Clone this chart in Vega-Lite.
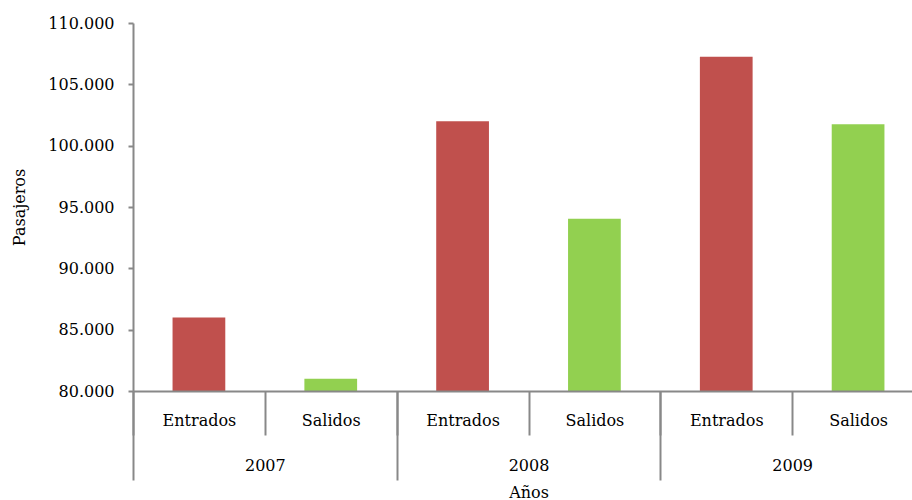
{
  "$schema": "https://vega.github.io/schema/vega-lite/v6.json",
  "width": 791,
  "height": 368,
  "autosize": {"type": "none"},
  "padding": {"left": 133, "top": 23, "right": 0, "bottom": 109},
  "background": "white",
  "config": {"view": {"stroke": null}, "font": "DejaVu Serif"},
  "data": {
    "values": [
      {"year": "2007", "tipo": "Entrados", "grupo": "2007 Entrados", "pasajeros": 86000},
      {"year": "2007", "tipo": "Salidos", "grupo": "2007 Salidos", "pasajeros": 81000},
      {"year": "2008", "tipo": "Entrados", "grupo": "2008 Entrados", "pasajeros": 102000},
      {"year": "2008", "tipo": "Salidos", "grupo": "2008 Salidos", "pasajeros": 94050},
      {"year": "2009", "tipo": "Entrados", "grupo": "2009 Entrados", "pasajeros": 107250},
      {"year": "2009", "tipo": "Salidos", "grupo": "2009 Salidos", "pasajeros": 101750}
    ]
  },
  "layer": [
    {
      "mark": {"type": "bar", "clip": true, "width": {"band": 0.4}},
      "encoding": {
        "x": {
          "field": "grupo", "type": "nominal", "sort": null,
          "scale": {"paddingInner": 0, "paddingOuter": 0},
          "axis": {
            "orient": "bottom", "title": null, "tickBand": "extent", "tickSize": 44,
            "tickColor": "#888888", "tickWidth": 2, "domainColor": "#888888", "domainWidth": 2,
            "labelAngle": 0, "labelPadding": -23, "labelFontSize": 16, "labelColor": "#000000",
            "labelExpr": "split(datum.label, ' ')[1]", "zindex": 1
          }
        },
        "y": {
          "field": "pasajeros", "type": "quantitative",
          "scale": {"domain": [80000, 110000], "zero": false, "nice": false},
          "axis": {
            "title": "Pasajeros", "titleFontWeight": "normal", "titleFontSize": 16, "titleColor": "#000000",
            "titlePadding": 20, "grid": false,
            "values": [80000, 85000, 90000, 95000, 100000, 105000, 110000],
            "labelExpr": "replace(format(datum.value, ','), ',', '.')",
            "labelFontSize": 16, "labelColor": "#000000", "labelPadding": 14,
            "tickSize": 5, "tickColor": "#888888", "tickWidth": 2,
            "domainColor": "#888888", "domainWidth": 2, "zindex": 1
          }
        },
        "color": {
          "field": "tipo", "type": "nominal",
          "scale": {"domain": ["Entrados", "Salidos"], "range": ["#C0504D", "#92D050"]},
          "legend": null
        }
      }
    },
    {
      "mark": {"type": "bar", "opacity": 0, "clip": true},
      "encoding": {
        "x": {
          "field": "year", "type": "ordinal",
          "scale": {"paddingInner": 0, "paddingOuter": 0},
          "axis": {
            "orient": "bottom", "title": "Años", "titleFontWeight": "normal", "titleFontSize": 16,
            "titleColor": "#000000", "titlePadding": 3, "domain": false,
            "tickBand": "extent", "tickSize": 89, "tickColor": "#888888", "tickWidth": 2,
            "labelAngle": 0, "labelPadding": -23, "labelFontSize": 16, "labelColor": "#000000", "zindex": 1
          }
        },
        "y": {"field": "pasajeros", "type": "quantitative"}
      }
    }
  ],
  "resolve": {"scale": {"x": "independent"}}
}
